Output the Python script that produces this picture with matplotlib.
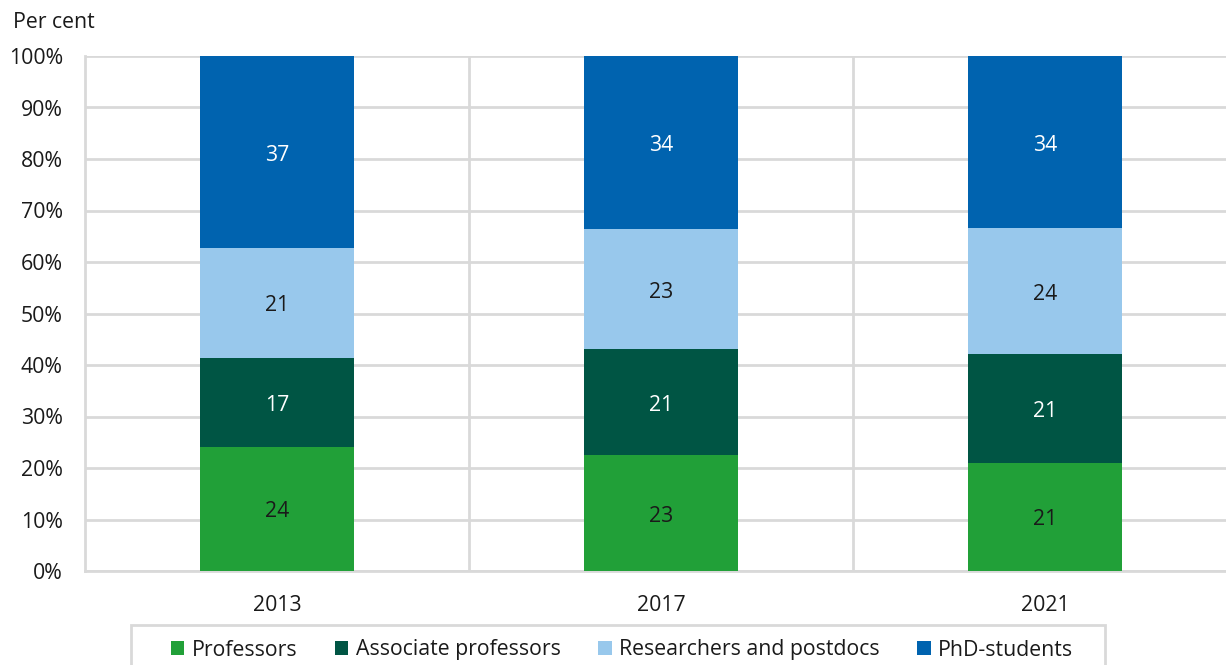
import matplotlib
matplotlib.use("Agg")
import matplotlib.pyplot as plt
import matplotlib.transforms as mtransforms
import numpy as np
from matplotlib.patches import Patch, Rectangle

plt.rcParams['font.family'] = ['Open Sans', 'DejaVu Sans']

years = ["2013", "2017", "2021"]
series = ["Professors", "Associate professors", "Researchers and postdocs", "PhD-students"]
professors = [24.1, 22.5, 21.0]
associate = [17.3, 20.6, 21.1]
researchers = [21.3, 23.3, 24.5]
phd = [37.3, 33.6, 33.4]
labels = [[24, 23, 21], [17, 21, 21], [21, 23, 24], [37, 34, 34]]

colors = ["#21a038", "#005544", "#98c8ec", "#0063af"]
text_colors = ["#1a1a1a", "white", "#1a1a1a", "white"]
FS = 15.3
W, H = 1226, 665

fig = plt.figure(figsize=(12.26, 6.65), dpi=100)
ax = fig.add_axes([85/W, 1-571/H, 1152/W, (571-56)/H])
label_tr = ax.transData + mtransforms.ScaledTranslation(0, -3/100, fig.dpi_scale_trans)

x = np.arange(len(years))
bottom = np.zeros(len(years))
data = [professors, associate, researchers, phd]
for i, vals in enumerate(data):
    vals = np.array(vals)
    ax.bar(x, vals, 0.4, bottom=bottom, color=colors[i], zorder=3)
    for j in range(len(years)):
        ax.text(x[j], bottom[j] + vals[j]/2, str(labels[i][j]), ha='center', va='center',
                color=text_colors[i], fontsize=FS, zorder=4, transform=label_tr)
    bottom += vals

ax.set_xlim(-0.5, 2.5)
ax.set_ylim(0, 100)
ax.set_yticks(np.arange(0, 101, 10))
ax.set_yticklabels([f"{v}%" for v in range(0, 101, 10)], fontsize=FS, color='#1a1a1a')
ax.set_xticks(x)
ax.set_xticklabels(years, fontsize=FS, color='#1a1a1a')
ax.tick_params(length=0)
ax.tick_params(axis='y', pad=16)
ax.tick_params(axis='x', pad=17)
ax.yaxis.grid(True, color='#d9d9d9', linewidth=2, zorder=0)
for b in [0.5, 1.5]:
    ax.axvline(b, color='#d9d9d9', linewidth=2, zorder=0)
for s in ['top', 'right']:
    ax.spines[s].set_visible(False)
for s in ['left', 'bottom']:
    ax.spines[s].set_color('#d9d9d9')
    ax.spines[s].set_linewidth(2)

fig.text(13/W, 1-22/H, "Per cent", fontsize=FS, color='#1a1a1a', va='center', ha='left')

# legend frame
fig.add_artist(Rectangle((131/W, -10/H), (1105-131)/W, (10+665-625)/H, transform=fig.transFigure,
                         facecolor='none', edgecolor='#d9d9d9', linewidth=2))

handles = [Patch(facecolor=c, edgecolor='none') for c in colors]
leg = fig.legend(handles, series, loc='center', bbox_to_anchor=(622/W, 1-650/H),
                 ncol=4, frameon=False, fontsize=FS, handlelength=0.65, handleheight=0.65,
                 handletextpad=0.35, columnspacing=1.75, borderpad=0, borderaxespad=0)
for t in leg.get_texts():
    t.set_color('#1a1a1a')

fig.savefig("out.png", dpi=100)
